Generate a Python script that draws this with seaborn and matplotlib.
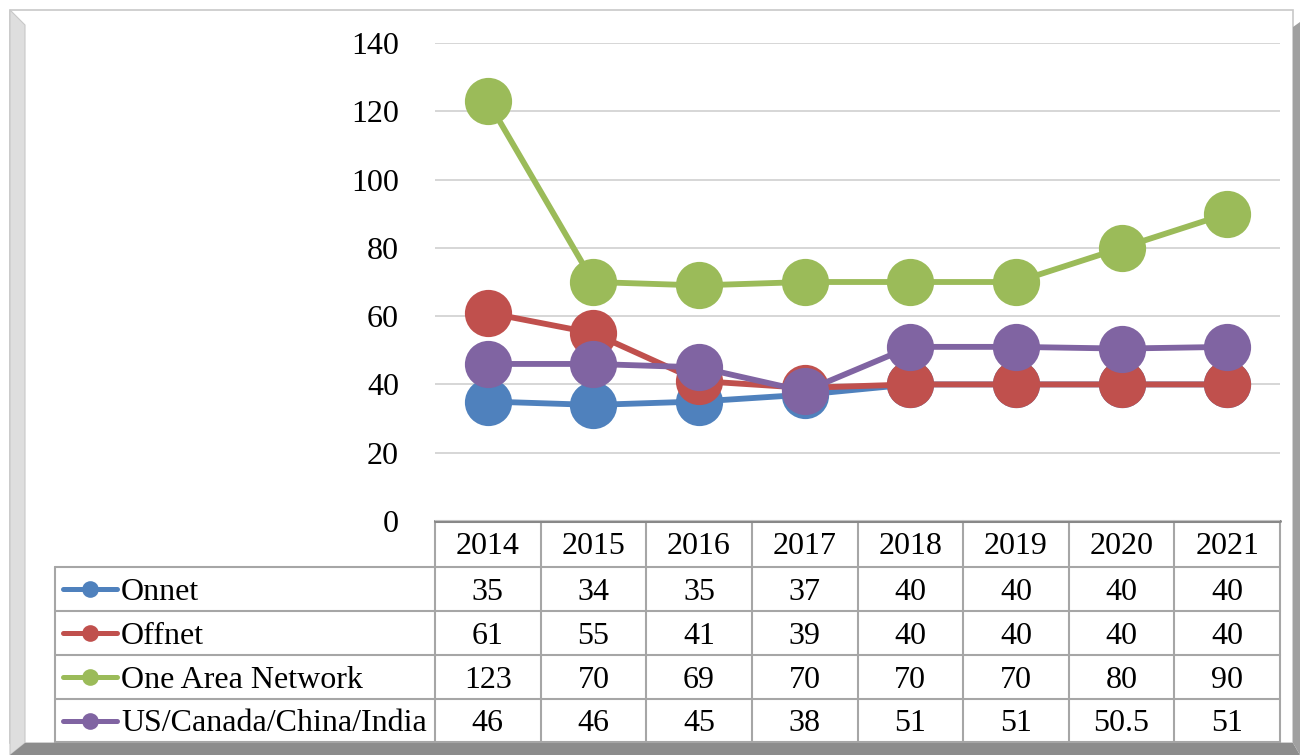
import numpy as np
import pandas as pd
import seaborn as sns
import matplotlib.pyplot as plt
from matplotlib.patches import Polygon, Rectangle
from matplotlib.lines import Line2D

years = ['2014', '2015', '2016', '2017', '2018', '2019', '2020', '2021']
onnet = [35, 34, 35, 37, 40, 40, 40, 40]
offnet = [61, 55, 41, 39, 40, 40, 40, 40]
one_area = [123, 70, 69, 70, 70, 70, 80, 90]
us_ccI = [46, 46, 45, 38, 51, 51, 50.5, 51]
series_names = ['Onnet', 'Offnet', 'One Area Network', 'US/Canada/China/India']
colors = ['#4F81BD', '#C0504D', '#9BBB59', '#8064A2']
yticks = [0, 20, 40, 60, 80, 100, 120, 140]

series_vals = [onnet, offnet, one_area, us_ccI]
df = pd.DataFrame({
    'year': years * 4,
    'value': onnet + offnet + one_area + us_ccI,
    'series': np.repeat(series_names, len(years)),
})

sns.set_style('white')
plt.rcParams['font.family'] = ['Liberation Serif', 'DejaVu Serif']
plt.rcParams['text.color'] = 'black'
plt.rcParams['ytick.color'] = 'black'
plt.rcParams['ytick.labelcolor'] = 'black'
FS = 23

W, H = 1300, 755
fig = plt.figure(figsize=(13, 7.55), dpi=100)

# background axes in pixel units for frame + data table
bg = fig.add_axes([0, 0, 1, 1])
bg.set_xlim(0, W)
bg.set_ylim(H, 0)
bg.axis('off')

# frame with 3D bevel
bg.add_patch(Rectangle((10, 10), 1283, 733, facecolor='white', edgecolor='#C8C8C8', lw=1.2))
bg.add_patch(Polygon([(10, 10), (25, 25), (25, 743), (10, 755)], closed=True,
                     facecolor='#DEDEDE', edgecolor='#C8C8C8', lw=0.8))
bg.add_patch(Polygon([(10, 755), (25, 743), (1293, 743), (1300, 755)], closed=True,
                     facecolor='#8C8C8C', edgecolor='none'))
bg.add_patch(Polygon([(1293, 27), (1300, 22), (1300, 755), (1293, 743)], closed=True,
                     facecolor='#A0A0A0', edgecolor='none'))

# main plot
x0, x1, ytop, ybot = 435, 1280, 43, 521
ax = fig.add_axes([x0 / W, 1 - ybot / H, (x1 - x0) / W, (ybot - ytop) / H])
ax.patch.set_alpha(0)
sns.lineplot(data=df, x='year', y='value', hue='series', hue_order=series_names,
             palette=colors, marker='o', markersize=34, markeredgewidth=0,
             linewidth=4.2, sort=False, legend=False, ax=ax, zorder=3)
ax.set_xlim(-0.5, len(years) - 0.5)
ax.set_ylim(0, 140)
ax.set_yticks(yticks)
ax.set_yticklabels([str(v) for v in yticks], fontsize=FS)
ax.tick_params(axis='y', length=0, pad=26)
ax.set_xticks([])
ax.set_xlabel('')
ax.set_ylabel('')
ax.grid(axis='y', color='#D0D0D0', lw=1.2)
for s in ['left', 'right', 'top', 'bottom']:
    ax.spines[s].set_visible(False)
for l in ax.lines:
    l.set_clip_on(False)

# data table
col_w = (x1 - x0) / len(years)
col_edges = [x0 + i * col_w for i in range(len(years) + 1)]
row_edges = [521, 567, 611, 655, 699, 742]
lab_left = 55
gc = '#A6A6A6'

bg.plot([x0, x1], [row_edges[0], row_edges[0]], color='#888888', lw=2.2, zorder=5)
for ye in row_edges[1:]:
    bg.plot([lab_left, x1], [ye, ye], color=gc, lw=1.5)
bg.plot([lab_left, lab_left], [row_edges[1], row_edges[-1]], color=gc, lw=1.5)
for xe in col_edges:
    bg.plot([xe, xe], [row_edges[0], row_edges[-1]], color=gc, lw=1.5)

for i, yr in enumerate(years):
    bg.text((col_edges[i] + col_edges[i + 1]) / 2, (row_edges[0] + row_edges[1]) / 2 + 3,
            yr, ha='center', va='center', fontsize=FS)

for r, (name, vals, c) in enumerate(zip(series_names, series_vals, colors)):
    yc = (row_edges[r + 1] + row_edges[r + 2]) / 2
    bg.add_line(Line2D([63, 117], [yc, yc], color=c, lw=3.6, solid_capstyle='round'))
    bg.add_line(Line2D([90], [yc], marker='o', markersize=12, color=c, markeredgewidth=0))
    bg.text(121, yc + 3, name, ha='left', va='center', fontsize=FS)
    for i, v in enumerate(vals):
        txt = f'{v:g}'
        bg.text((col_edges[i] + col_edges[i + 1]) / 2, yc + 3, txt,
                ha='center', va='center', fontsize=FS)

fig.savefig('out.png', dpi=100)
